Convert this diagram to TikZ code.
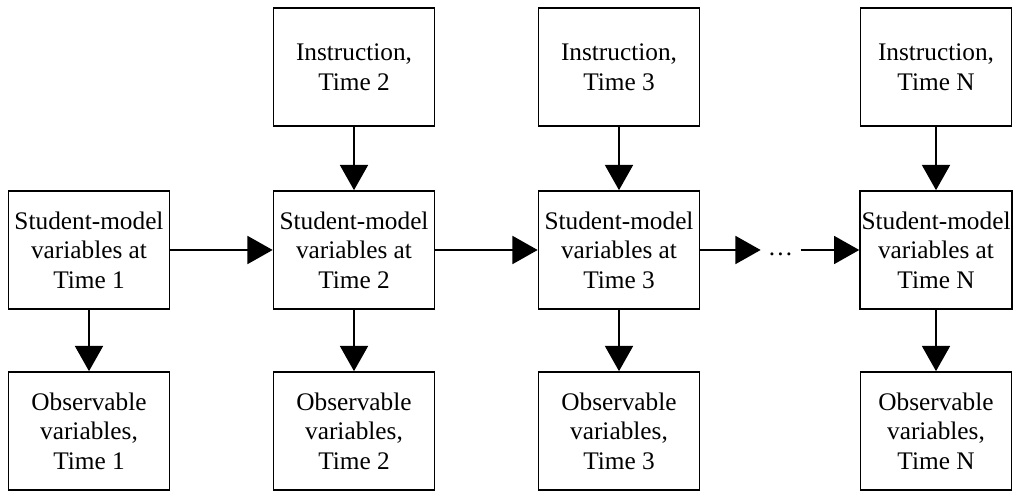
\documentclass[tikz,border=0pt]{standalone}
\usepackage{fontspec}
\setmainfont{Liberation Serif}
\usetikzlibrary{arrows.meta}
\tikzstyle{arrow} = [line width=1.2pt,-{Triangle[length=0.63cm,width=0.7cm]}]
\tikzstyle{diagnode} = [rectangle, minimum width=4.025cm, minimum
height=2.95cm, align=center, draw=black, line width=1.2pt, inner sep=1pt,
font=\fontsize{18}{21}\selectfont]

\begin{document}
\begin{tikzpicture}[node distance=6.625cm]
      \useasboundingbox (0,0) rectangle (25.35,12.3);
      \node (s1) [diagnode] at (2.225,6.05) {Student-model\\variables at\\Time 1};
      \node (s2) [diagnode, right of=s1]{Student-model\\variables at\\Time 2};
      \node (s3) [diagnode, right of=s2]{Student-model\\variables at\\Time 3};
      \node (sN) [diagnode, right of=s3, node distance=7.925cm, minimum width=3.78cm]{Student-model\\variables at\\Time N};
      \node (dots) [right of=s3, node distance=4.04cm, inner xsep=5pt, font=\fontsize{18}{21}\selectfont]{\strut\ldots};

      \node (i2) [diagnode, above of=s2, node distance=4.575cm]{Instruction,\\Time 2};
      \node (i3) [diagnode, above of=s3, node distance=4.575cm]{Instruction,\\Time 3};
      \node (iN) [diagnode, above of=sN, node distance=4.575cm, minimum width=3.78cm]{Instruction,\\Time N};

      \node (o1) [diagnode, below of=s1, node distance=4.525cm]{Observable\\variables,\\Time 1};
      \node (o2) [diagnode, below of=s2, node distance=4.525cm]{Observable\\variables,\\Time 2};
      \node (o3) [diagnode, below of=s3, node distance=4.525cm]{Observable\\variables,\\Time 3};
      \node (oN) [diagnode, below of=sN, node distance=4.525cm, minimum width=3.78cm]{Observable\\variables,\\Time N};

      \draw [arrow] (s1) -- (s2);
      \draw [arrow] (s2) -- (s3);
      \draw [arrow] (s3) -- (dots);
      \draw [arrow] (dots) -- (sN);
      \draw [arrow] (i2) -- (s2);
      \draw [arrow] (i3) -- (s3);
      \draw [arrow] (iN) -- (sN);
      \draw [arrow] (s1) -- (o1);
      \draw [arrow] (s2) -- (o2);
      \draw [arrow] (s3) -- (o3);
      \draw [arrow] (sN) -- (oN);
    \end{tikzpicture}
\end{document}
